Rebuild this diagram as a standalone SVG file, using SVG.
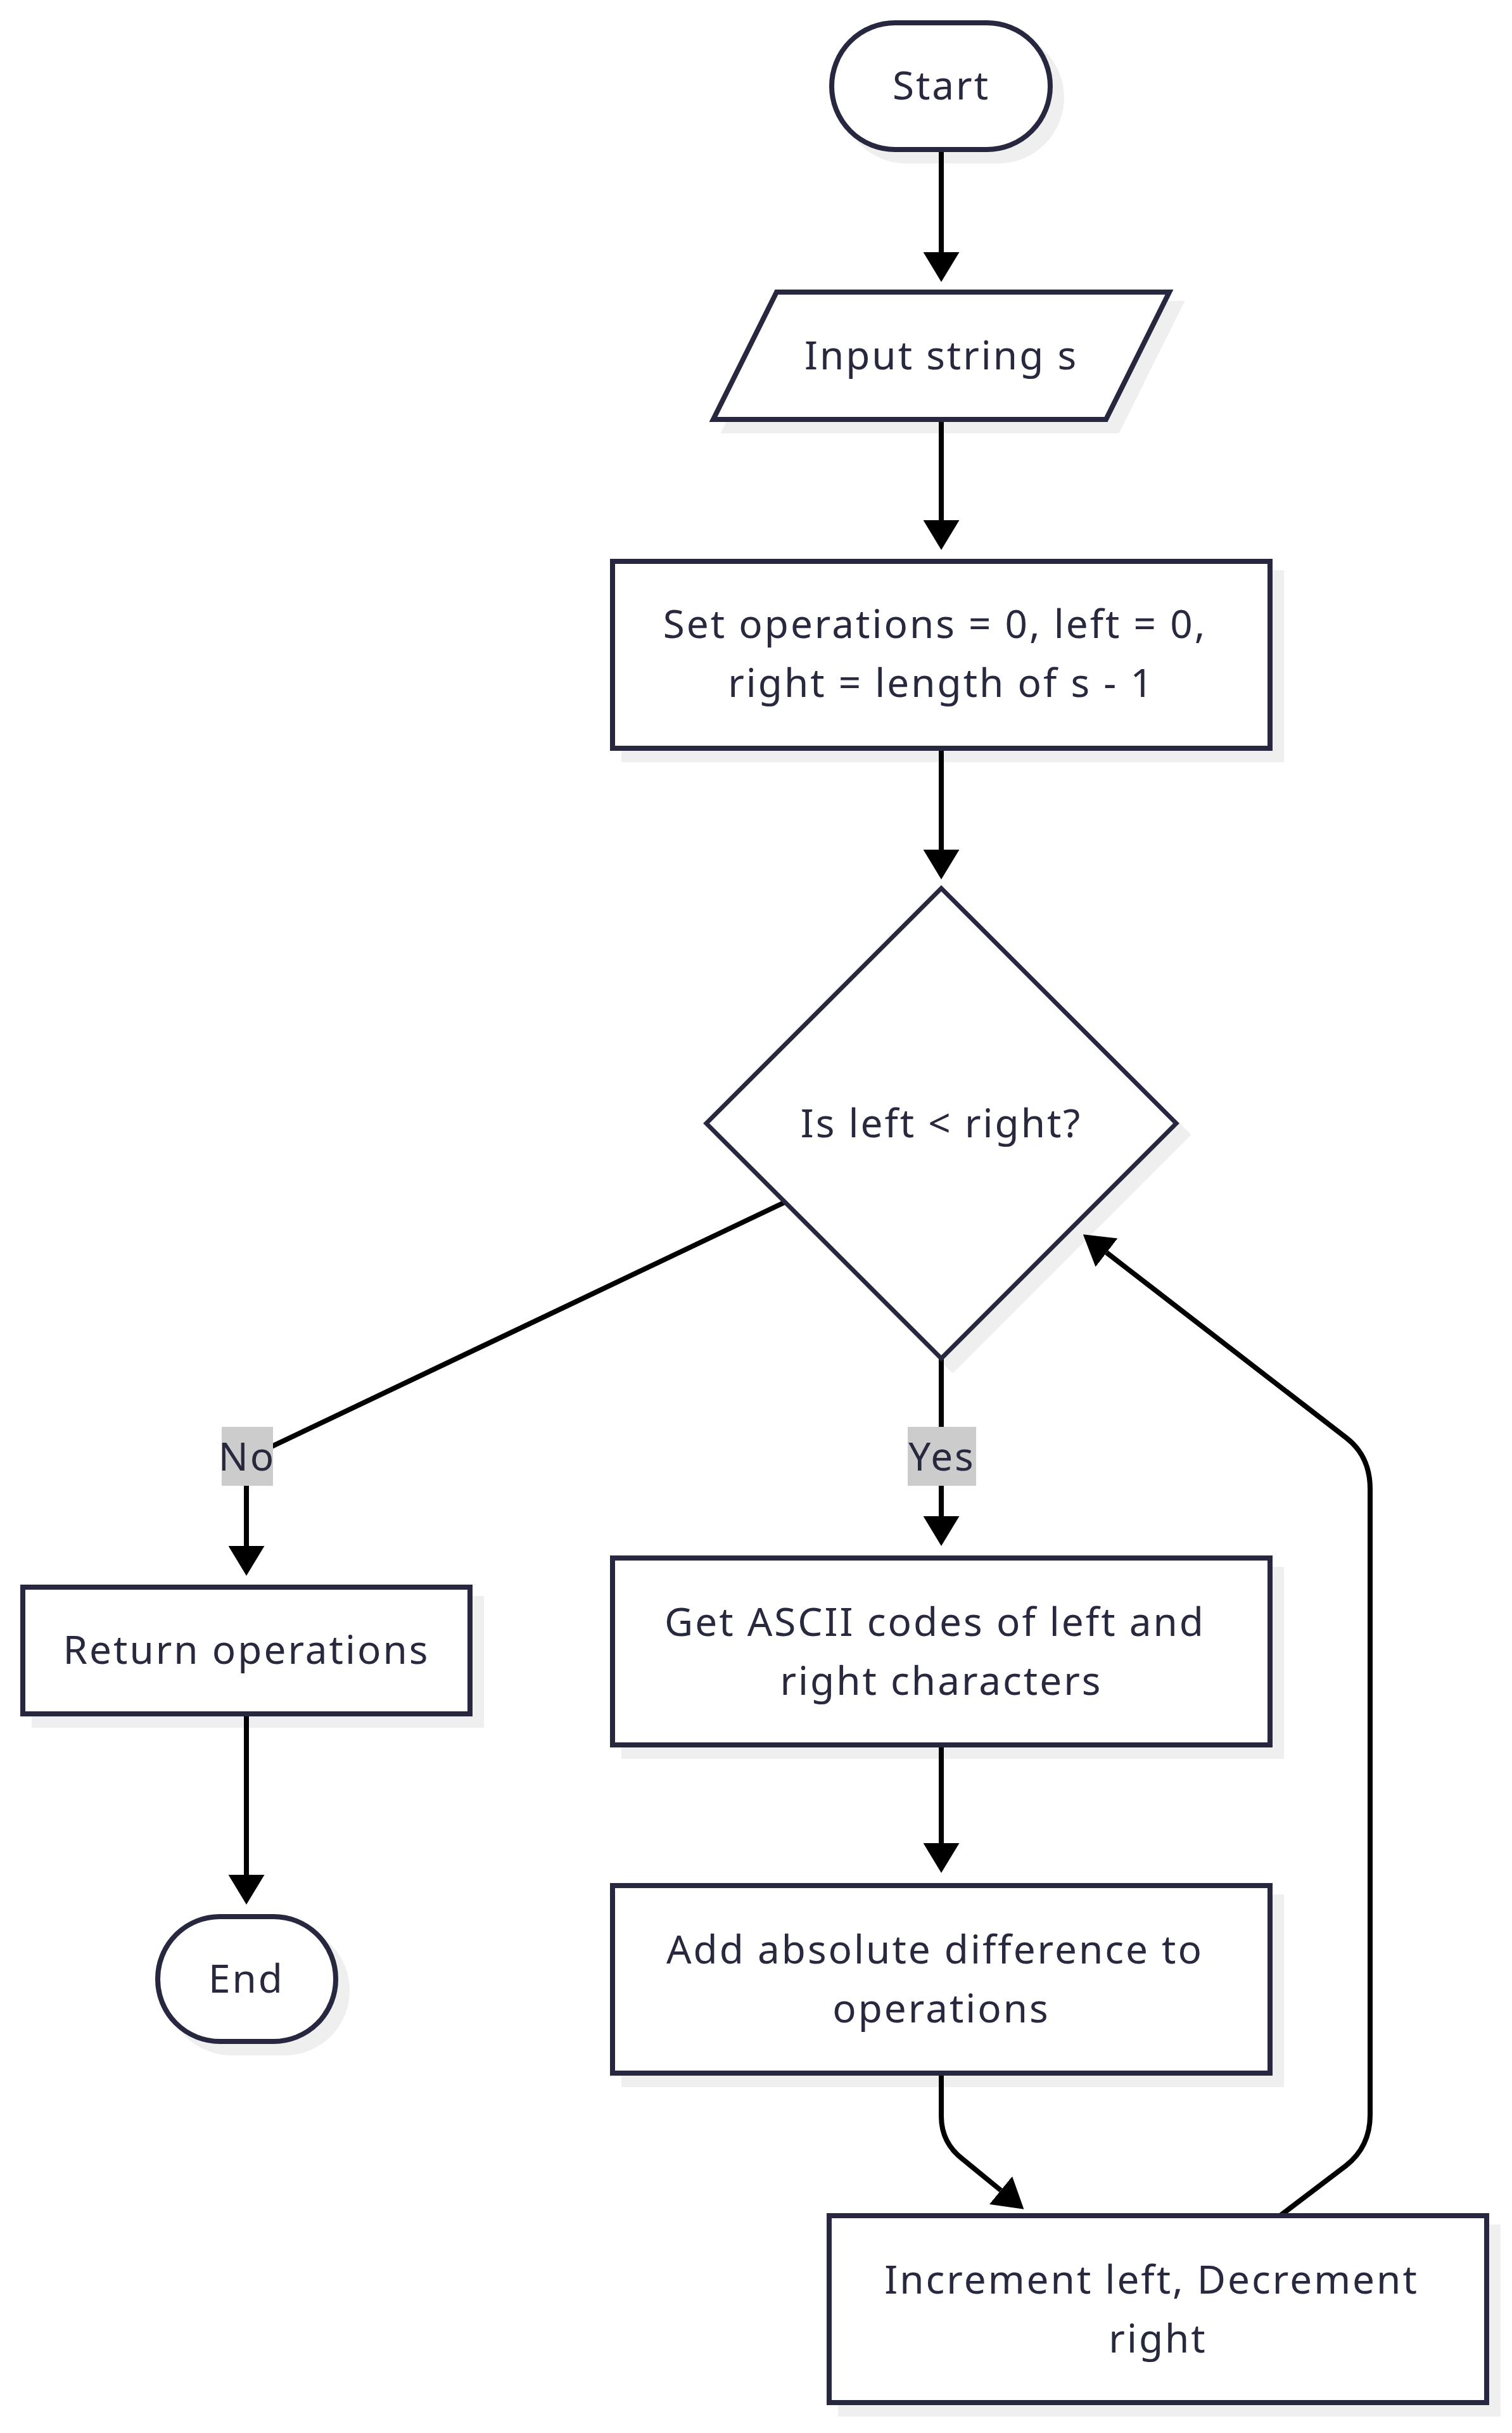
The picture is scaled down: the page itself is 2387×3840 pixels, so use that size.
<svg xmlns="http://www.w3.org/2000/svg" width="2387" height="3840" viewBox="0 0 2387 3840">
<style>
.bg{fill:#ffffff}
.node{fill:#ffffff;stroke:#27273f;stroke-width:8}
.dia{fill:#ffffff;stroke:#27273f;stroke-width:7}
.shadow{fill:#efefef;stroke:#efefef;stroke-width:8}
.t{font-family:"Noto Sans","DejaVu Sans",sans-serif;font-size:62px;fill:#28283f;text-anchor:middle;letter-spacing:3px}
.edge{fill:none;stroke:#000000;stroke-width:8}
.lbl{fill:#cccccc}
</style>
<defs>
<marker id="arrow" viewBox="0 0 10 10" refX="0" refY="5" markerUnits="userSpaceOnUse" markerWidth="47" markerHeight="57" preserveAspectRatio="none" orient="auto">
<path d="M0,0 L10,5 L0,10 z" fill="#000000"/>
</marker>
</defs>
<rect class="bg" x="0" y="0" width="2387" height="3840"/>

<g id="shadows">
<rect class="shadow" x="1331" y="54" width="345" height="200" rx="100" ry="100"/>
<polygon class="shadow" points="1244,479 1864,479 1764,680 1144,680"/>
<rect class="shadow" x="985" y="904" width="1038" height="295"/>
<polygon class="shadow" points="1504,1420 1875,1791 1504,2162 1133,1791"/>
<rect class="shadow" x="54" y="2523" width="706" height="200"/>
<rect class="shadow" x="267" y="3043" width="281" height="197" rx="98" ry="98"/>
<rect class="shadow" x="985" y="2477" width="1038" height="295"/>
<rect class="shadow" x="985" y="2994" width="1038" height="296"/>
<rect class="shadow" x="1327" y="3515" width="1038" height="295"/>
</g>

<g id="connectors">
<path class="edge" d="M1486,236 L1486,398" marker-end="url(#arrow)"/>
<path class="edge" d="M1486,662 L1486,821" marker-end="url(#arrow)"/>
<path class="edge" d="M1486,1181 L1486,1341" marker-end="url(#arrow)"/>
<path class="edge" d="M1240,1897 L389,2302 L389,2440" marker-end="url(#arrow)"/>
<path class="edge" d="M1486,2144 L1486,2393" marker-end="url(#arrow)"/>
<path class="edge" d="M389,2705 L389,2959" marker-end="url(#arrow)"/>
<path class="edge" d="M1486,2754 L1486,2909" marker-end="url(#arrow)"/>
<path class="edge" d="M1486,3272 L1486,3340 Q1486,3382 1520,3408 L1580,3457" marker-end="url(#arrow)"/>
<path class="edge" d="M2021,3497 L2125,3418 Q2163,3388 2163,3338 L2163,2350 Q2163,2298 2125,2269 L1747,1977" marker-end="url(#arrow)"/>
<rect class="lbl" x="350" y="2252" width="81" height="93"/>
<text class="t" x="390" y="2321">No</text>
<rect class="lbl" x="1433" y="2252" width="108" height="93"/>
<text class="t" x="1487" y="2321">Yes</text>
</g>

<g id="start">
<rect class="node" x="1313" y="36" width="345" height="200" rx="100" ry="100"/>
<text class="t" x="1486" y="157">Start</text>
</g>
<g id="input">
<polygon class="node" points="1226,461 1846,461 1746,662 1126,662"/>
<text class="t" x="1486" y="583">Input string s</text>
</g>
<g id="init">
<rect class="node" x="967" y="886" width="1038" height="295"/>
<text class="t" x="1476" y="1007">Set operations = 0, left = 0,</text>
<text class="t" x="1486" y="1100">right = length of s - 1</text>
</g>
<g id="cond">
<polygon class="dia" points="1486,1402 1857,1773 1486,2144 1115,1773"/>
<text class="t" x="1486" y="1795">Is left &lt; right?</text>
</g>
<g id="ret">
<rect class="node" x="36" y="2505" width="706" height="200"/>
<text class="t" x="389" y="2626">Return operations</text>
</g>
<g id="end">
<rect class="node" x="249" y="3025" width="281" height="197" rx="98" ry="98"/>
<text class="t" x="389" y="3145">End</text>
</g>
<g id="ascii">
<rect class="node" x="967" y="2459" width="1038" height="295"/>
<text class="t" x="1476" y="2582">Get ASCII codes of left and</text>
<text class="t" x="1486" y="2675">right characters</text>
</g>
<g id="add">
<rect class="node" x="967" y="2976" width="1038" height="296"/>
<text class="t" x="1476" y="3099">Add absolute difference to</text>
<text class="t" x="1486" y="3192">operations</text>
</g>
<g id="inc">
<rect class="node" x="1309" y="3497" width="1038" height="295"/>
<text class="t" x="1818" y="3620">Increment left, Decrement</text>
<text class="t" x="1828" y="3713">right</text>
</g>
</svg>
